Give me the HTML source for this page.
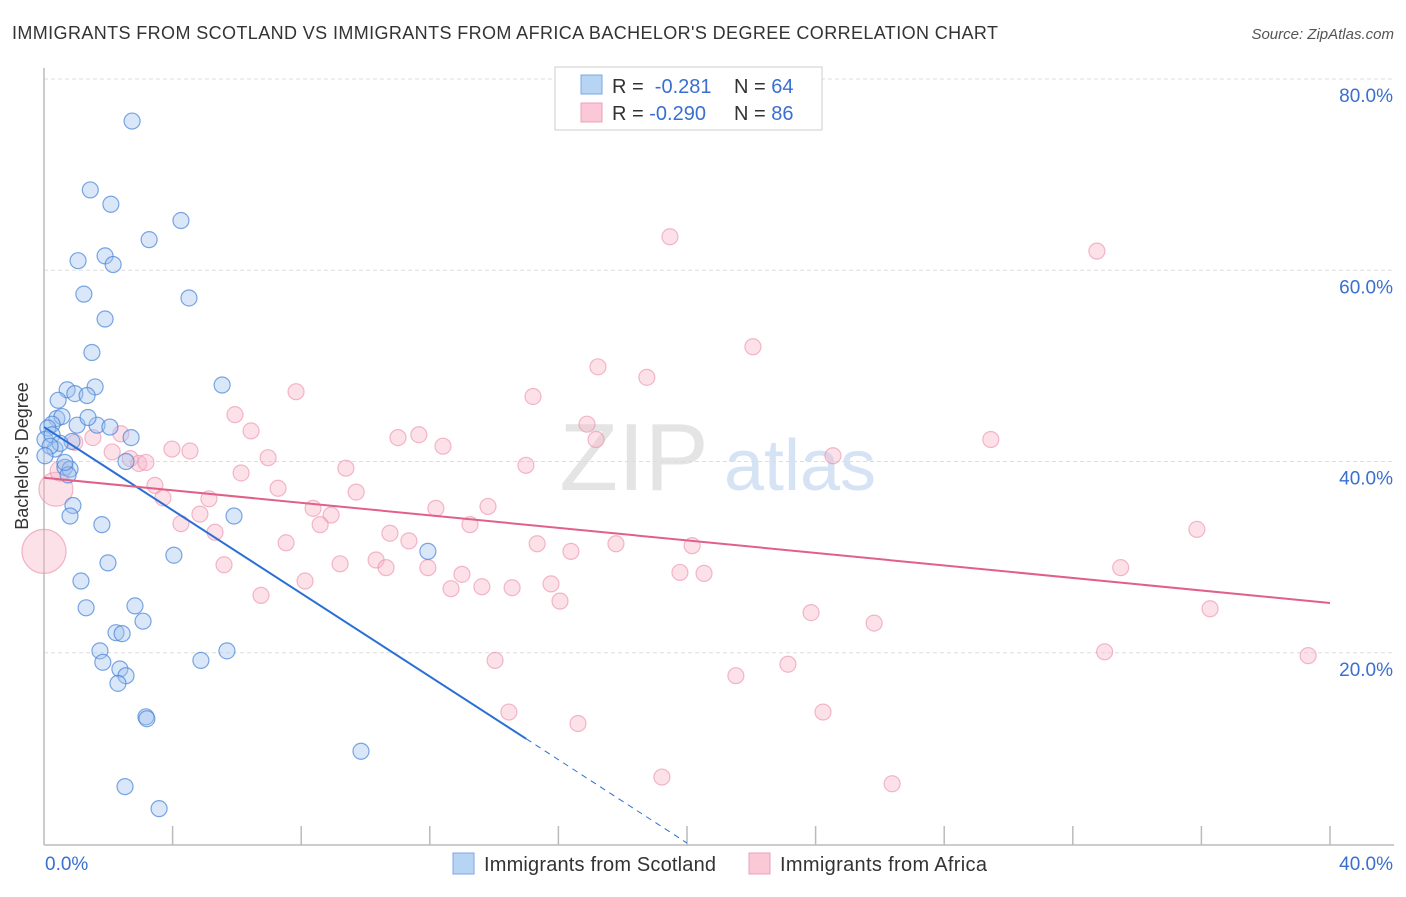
<!DOCTYPE html>
<html><head><meta charset="utf-8"><style>
body{margin:0;background:#fff;font-family:"Liberation Sans",sans-serif;}
svg text{font-family:"Liberation Sans",sans-serif;}
</style></head><body>
<svg id="chart" width="1406" height="892" xmlns="http://www.w3.org/2000/svg">
<text x="12" y="39" font-size="18" textLength="986" fill="#333">IMMIGRANTS FROM SCOTLAND VS IMMIGRANTS FROM AFRICA BACHELOR'S DEGREE CORRELATION CHART</text>
<text x="1394" y="39" font-size="15" fill="#555" font-style="italic" text-anchor="end">Source: ZipAtlas.com</text>
<text x="634" y="490" font-size="96" fill="#e4e4e4" font-family="Liberation Serif" text-anchor="middle">ZIP</text>
<text x="800" y="490" font-size="72" fill="#d6e3f5" text-anchor="middle">atlas</text>
<g id="grid"></g><g id="axes"></g><g id="pts"></g><g id="lines"></g>
<text x="28" y="456" font-size="18" fill="#333" text-anchor="middle" transform="rotate(-90 28 456)">Bachelor's Degree</text>
<g>
<rect x="555" y="67" width="267" height="63" fill="#fff" stroke="#ccc"/>
<rect x="581" y="75" width="21" height="19" fill="#b8d4f5" stroke="#7aa8e0"/>
<rect x="581" y="103" width="21" height="19" fill="#fbc8d7" stroke="#eea0b8"/>
<text x="612" y="93" font-size="20" fill="#333">R = <tspan fill="#3a6fd0">&#160;-0.281</tspan></text>
<text x="734" y="93" font-size="20" fill="#333">N = <tspan fill="#3a6fd0">64</tspan></text>
<text x="612" y="120" font-size="20" fill="#333">R = <tspan fill="#3a6fd0">-0.290</tspan></text>
<text x="734" y="120" font-size="20" fill="#333">N = <tspan fill="#3a6fd0">86</tspan></text>
</g>
<g>
<rect x="453" y="853" width="21" height="21" fill="#b8d4f5" stroke="#7aa8e0"/>
<text x="484" y="871" font-size="20" textLength="232" fill="#333">Immigrants from Scotland</text>
<rect x="749" y="853" width="21" height="21" fill="#fbc8d7" stroke="#eea0b8"/>
<text x="780" y="871" font-size="20" textLength="207" fill="#333">Immigrants from Africa</text>
</g>
</svg>
<script>
const yTicks=[20,40,60,80];
const xTickCount=10;
const blueX=[2.74,1.44,2.08,4.26,3.27,1.06,1.90,2.15,1.24,4.51,1.90,1.49,5.54,0.72,1.59,0.96,1.34,0.44,0.40,0.56,0.25,0.12,1.03,1.65,2.05,2.71,0.34,0.87,2.55,0.65,0.81,0.75,0.90,0.81,5.91,1.80,11.94,4.04,1.99,1.15,2.83,1.31,3.08,2.24,2.43,1.74,1.83,5.69,4.88,2.36,2.55,2.30,3.17,3.20,9.86,2.52,3.58,0.03,0.25,0.50,1.37,0.19,0.65,0.03];
const blueY=[75.6,68.4,66.9,65.2,63.2,61.0,61.5,60.6,57.5,57.1,54.9,51.4,48.0,47.5,47.8,47.1,46.9,46.4,44.5,44.7,43.9,43.5,43.8,43.8,43.6,42.5,41.3,42.1,40.0,39.4,39.2,38.6,35.4,34.3,34.3,33.4,30.6,30.2,29.4,27.5,24.9,24.7,23.3,22.1,22.0,20.2,19.0,20.2,19.2,18.3,17.6,16.8,13.3,13.1,9.7,6.0,3.7,42.3,42.8,41.9,44.6,41.6,39.9,40.6];
const pinkX=[19.47,32.75,22.05,17.23,18.75,7.84,15.21,5.94,6.44,16.89,11.01,11.66,29.45,12.41,17.17,3.98,4.54,2.39,1.52,0.96,2.12,2.68,2.95,3.17,6.97,24.54,9.39,14.99,6.13,7.28,3.45,3.70,5.13,9.71,12.19,13.81,8.37,8.93,4.85,4.26,8.59,13.25,5.32,10.76,11.35,7.53,15.34,17.79,16.39,20.16,10.33,9.21,10.64,11.94,5.60,35.86,33.49,13.00,19.78,20.53,8.12,13.62,14.56,15.77,12.66,16.05,6.75,23.86,25.82,36.27,32.99,39.32,14.03,23.14,21.52,14.46,24.23,16.61,19.22,26.38,0.00,0.37,0.50];
const pinkY=[63.5,62.0,52.0,49.9,48.8,47.3,46.8,44.9,43.2,43.9,42.5,42.8,42.3,41.6,42.3,41.3,41.1,42.9,42.5,42.0,41.0,40.3,39.8,39.9,40.4,40.6,39.3,39.6,38.8,37.2,37.5,36.2,36.1,36.8,35.1,35.3,35.1,34.4,34.5,33.5,33.4,33.4,32.6,32.5,31.7,31.5,31.4,31.4,30.6,31.2,29.7,29.3,28.9,28.9,29.2,32.9,28.9,28.2,28.4,28.3,27.5,26.9,26.8,27.2,26.7,25.4,26.0,24.2,23.1,24.6,20.1,19.7,19.2,18.8,17.6,13.8,13.8,12.6,7.0,6.3,30.6,37.1,39.0];
const pinkR=[];for(let i=0;i<pinkX.length;i++)pinkR.push(i===pinkX.length-3?22:(i===pinkX.length-2?17:(i===pinkX.length-1?10:8)));
const blueTrend=[[0,43.6],[15.0,11.0]], blueTrendDash=[[15.0,11.0],[20.0,0.1]];
const pinkTrend=[[0,38.3],[40,25.2]];
const X0=44,X1=1330,Y0=844,YS=9.5625;
const sx=v=>X0+v/40*(X1-X0), sy=v=>Y0-v*YS;
const NS='http://www.w3.org/2000/svg';
function mk(tag,attrs,parent){const e=document.createElementNS(NS,tag);for(const k in attrs)e.setAttribute(k,attrs[k]);document.getElementById(parent).appendChild(e);return e;}
yTicks.forEach(t=>{
 const l=mk('line',{x1:44,x2:1394,y1:sy(t),y2:sy(t),stroke:'#ddd','stroke-dasharray':'4,3'},'grid');
 
 
 const tx=mk('text',{x:1393,y:sy(t)+23,'font-size':19,fill:'#3a6fd0','text-anchor':'end'},'grid');
 tx.textContent=t.toFixed(1)+'%';
 
 
});
const ax=mk('line',{x1:44,x2:1394,y1:845,y2:845,stroke:'#bbb','stroke-width':1.5},'axes');


const ay=mk('line',{x1:44,x2:44,y1:68,y2:845,stroke:'#bbb','stroke-width':1.5},'axes');


for(let i=1;i<=xTickCount;i++){const x=sx(i*4);const t=mk('line',{x1:x,x2:x,y1:826,y2:845,stroke:'#bbb','stroke-width':1.5},'axes');
 
 }
const xl0=mk('text',{x:45,y:870,'font-size':19,fill:'#3a6fd0'},'axes');xl0.textContent='0.0%';


const xl1=mk('text',{x:1393,y:870,'font-size':19,fill:'#3a6fd0','text-anchor':'end'},'axes');xl1.textContent='40.0%';


pinkX.forEach((v,i)=>{const c=mk('circle',{cx:sx(v),cy:sy(pinkY[i]),r:pinkR[i],fill:'rgba(248,180,200,0.4)',stroke:'rgba(235,140,170,0.6)','stroke-width':1.2},'pts');
 
 });
blueX.forEach((v,i)=>{const c=mk('circle',{cx:sx(v),cy:sy(blueY[i]),r:8,fill:'rgba(160,195,240,0.4)',stroke:'rgba(70,130,215,0.7)','stroke-width':1.2},'pts');
 
 });
const bl=mk('line',{x1:sx(blueTrend[0][0]),y1:sy(blueTrend[0][1]),x2:sx(blueTrend[1][0]),y2:sy(blueTrend[1][1]),stroke:'#2a6fd6','stroke-width':2},'lines');


const bd=mk('line',{x1:sx(blueTrendDash[0][0]),y1:sy(blueTrendDash[0][1]),x2:sx(blueTrendDash[1][0]),y2:sy(blueTrendDash[1][1]),stroke:'#2a6fd6','stroke-width':1,'stroke-dasharray':'6,5'},'lines');


const pl=mk('line',{x1:sx(pinkTrend[0][0]),y1:sy(pinkTrend[0][1]),x2:sx(pinkTrend[1][0]),y2:sy(pinkTrend[1][1]),stroke:'#e0608a','stroke-width':2},'lines');


</script>
</body></html>
